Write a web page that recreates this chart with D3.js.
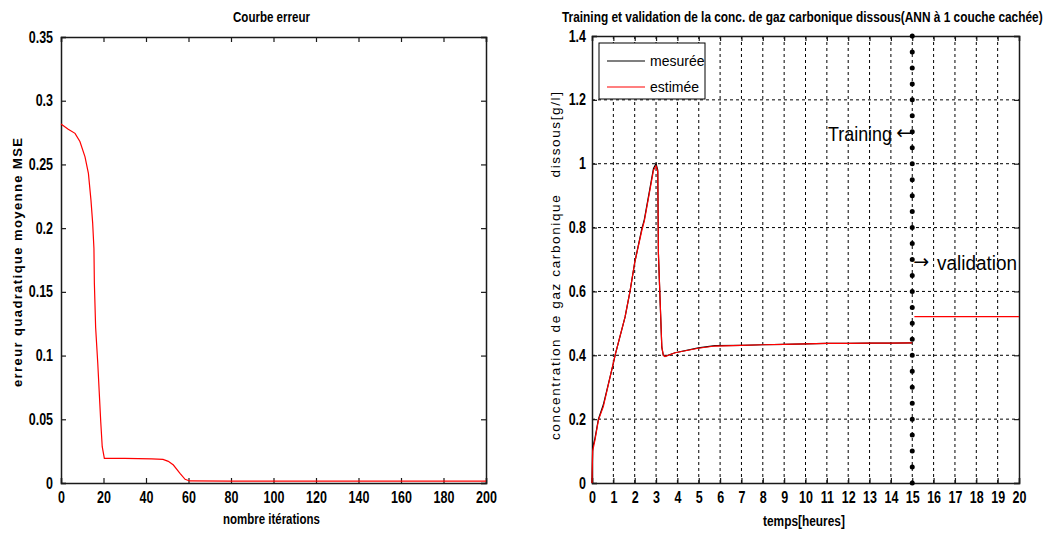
<!DOCTYPE html>
<html>
<head>
<meta charset="utf-8">
<script src="https://cdn.jsdelivr.net/npm/d3@7"></script>
<style>
  html, body { margin: 0; padding: 0; background: #fff; }
  svg { display: block; }
  text { fill: #000; }
</style>
</head>
<body>
<svg id="chart" width="1050" height="535"></svg>
<script>
// ---- Error curve (training MSE per iteration) ----
const iterations = [0, 3.4, 6.6, 8.9, 11.3, 12.9, 14.1, 14.9, 15.5, 15.7, 16.3, 17.3, 18.0, 18.7, 19.4, 20.4, 30, 42.7, 48, 50.5, 52.9, 56, 58.4, 60.5, 80, 120, 160, 200];
const mse = [0.2817, 0.2776, 0.2744, 0.268, 0.256, 0.243, 0.222, 0.204, 0.184, 0.157, 0.122, 0.094, 0.071, 0.048, 0.0285, 0.0194, 0.0193, 0.019, 0.0185, 0.017, 0.0141, 0.0076, 0.0029, 0.0016, 0.0015, 0.0015, 0.0015, 0.0015];
const iterTicks = [0, 20, 40, 60, 80, 100, 120, 140, 160, 180, 200];
const mseTicks = [0, 0.05, 0.1, 0.15, 0.2, 0.25, 0.3, 0.35];
const mseTickLabels = ["0", "0.05", "0.1", "0.15", "0.2", "0.25", "0.3", "0.35"];

// ---- Dissolved CO2 concentration: training (0-15 h) and validation (15-20 h) ----
const timeTrain = [0, 0.03, 0.14, 0.3, 0.53, 1.0, 1.08, 1.55, 1.78, 2.0, 2.33, 2.45, 2.72, 2.88, 3.0, 3.08, 3.11, 3.19, 3.27, 3.34, 3.42, 3.89, 4.98, 5.76, 7, 8, 9, 10, 11, 12, 13, 14, 15];
const measured = [0, 0.11, 0.14, 0.2, 0.245, 0.375, 0.4, 0.52, 0.6, 0.69, 0.795, 0.825, 0.925, 0.985, 1.0, 0.98, 0.72, 0.57, 0.425, 0.40, 0.397, 0.408, 0.423, 0.43, 0.431, 0.433, 0.434, 0.436, 0.437, 0.437, 0.438, 0.438, 0.439];
const estimated = [0, 0.10, 0.135, 0.197, 0.239, 0.376, 0.40, 0.52, 0.60, 0.69, 0.79, 0.82, 0.92, 0.98, 0.993, 0.975, 0.72, 0.573, 0.427, 0.40, 0.396, 0.408, 0.422, 0.429, 0.431, 0.433, 0.434, 0.436, 0.437, 0.437, 0.438, 0.438, 0.439];
const timeValid = [15.1, 20];
const estimatedValid = [0.521, 0.521];
const trainingEnd = 15;
const hourTicks = d3.range(0, 21);
const concTicks = [0, 0.2, 0.4, 0.6, 0.8, 1, 1.2, 1.4];
const concTickLabels = ["0", "0.2", "0.4", "0.6", "0.8", "1", "1.2", "1.4"];
const seriesNames = ["mesurée", "estimée"];

const svg = d3.select("#chart");
const sansFont = "'Liberation Sans', Arial, sans-serif";
const arrowFont = "'DejaVu Sans', sans-serif";
const axisColor = "#1a1a1a";

// squeeze a text horizontally, keeping its anchor point
function condense(sel, ratio) {
  sel.each(function () {
    const len = this.getComputedTextLength();
    d3.select(this).attr("textLength", len * ratio).attr("lengthAdjust", "spacingAndGlyphs");
  });
}

function styleAxis(g, showLabels) {
  g.select(".domain").attr("stroke", axisColor).attr("stroke-width", 1.5);
  g.selectAll(".tick line").attr("stroke", axisColor).attr("stroke-width", 1.2);
  const t = g.selectAll(".tick text")
    .attr("font-family", sansFont)
    .attr("font-weight", "bold")
    .attr("font-size", 16)
    .attr("fill", "#000")
    .style("display", showLabels ? null : "none");
  if (showLabels) condense(t, 0.78);
}

// text fitted to a given width by a horizontal scale transform
function fittedLabel(parent, str, x, y, width, size, weight) {
  const t = parent.append("text").text(str)
    .attr("font-family", sansFont).attr("font-weight", weight).attr("font-size", size);
  const natural = t.node().getComputedTextLength();
  t.attr("transform", `translate(${x},${y}) scale(${width / natural},1)`);
  return t;
}

// ================= Left panel =================
const L = { left: 61, right: 486, top: 37, bottom: 483 };
const xL = d3.scaleLinear().domain([0, 200]).range([L.left, L.right]);
const yL = d3.scaleLinear().domain([0, 0.35]).range([L.bottom, L.top]);

const gL = svg.append("g");
gL.append("g").attr("transform", `translate(0,${L.bottom})`)
  .call(d3.axisBottom(xL).tickValues(iterTicks).tickSize(-5).tickPadding(9).tickFormat(d3.format("d")))
  .call(g => styleAxis(g, true));
gL.append("g").attr("transform", `translate(0,${L.top})`)
  .call(d3.axisTop(xL).tickValues(iterTicks).tickSize(-5))
  .call(g => styleAxis(g, false));
gL.append("g").attr("transform", `translate(${L.left},0)`)
  .call(d3.axisLeft(yL).tickValues(mseTicks).tickSize(-5).tickPadding(8).tickFormat((d, i) => mseTickLabels[i]))
  .call(g => styleAxis(g, true));
gL.append("g").attr("transform", `translate(${L.right},0)`)
  .call(d3.axisRight(yL).tickValues(mseTicks).tickSize(-5))
  .call(g => styleAxis(g, false));

gL.append("path")
  .datum(iterations.map((d, i) => [d, mse[i]]))
  .attr("fill", "none").attr("stroke", "#ff0000").attr("stroke-width", 1.2)
  .attr("d", d3.line().x(d => xL(d[0])).y(d => yL(d[1])));

fittedLabel(gL, "Courbe erreur", 233, 22, 77, 15, "bold");
fittedLabel(gL, "nombre itérations", 223, 524, 97, 15, "bold");
gL.append("text").text("erreur quadratique moyenne MSE")
  .attr("transform", "translate(22,387) rotate(-90)")
  .attr("textLength", 249).attr("lengthAdjust", "spacing")
  .attr("font-family", sansFont).attr("font-weight", "bold").attr("font-size", 13);

// ================= Right panel =================
const R = { left: 592, right: 1019, top: 36, bottom: 483 };
const xR = d3.scaleLinear().domain([0, 20]).range([R.left, R.right]);
const yR = d3.scaleLinear().domain([0, 1.4]).range([R.bottom, R.top]);

const gR = svg.append("g");

// dashed grid
gR.append("g").selectAll("line").data(hourTicks.filter(d => d > 0 && d < 20)).join("line")
  .attr("x1", d => xR(d)).attr("x2", d => xR(d)).attr("y1", R.bottom).attr("y2", R.top)
  .attr("stroke", "#000").attr("stroke-width", 1).attr("stroke-dasharray", "3 3");
gR.append("g").selectAll("line").data(concTicks.filter(d => d > 0 && d < 1.4)).join("line")
  .attr("x1", R.left).attr("x2", R.right).attr("y1", d => yR(d)).attr("y2", d => yR(d))
  .attr("stroke", "#000").attr("stroke-width", 1).attr("stroke-dasharray", "3 3");

gR.append("g").attr("transform", `translate(0,${R.bottom})`)
  .call(d3.axisBottom(xR).tickValues(hourTicks).tickSize(-5).tickPadding(9).tickFormat(d3.format("d")))
  .call(g => styleAxis(g, true));
gR.append("g").attr("transform", `translate(0,${R.top})`)
  .call(d3.axisTop(xR).tickValues(hourTicks).tickSize(-5))
  .call(g => styleAxis(g, false));
gR.append("g").attr("transform", `translate(${R.left},0)`)
  .call(d3.axisLeft(yR).tickValues(concTicks).tickSize(-5).tickPadding(6).tickFormat((d, i) => concTickLabels[i]))
  .call(g => styleAxis(g, true));
gR.append("g").attr("transform", `translate(${R.right},0)`)
  .call(d3.axisRight(yR).tickValues(concTicks).tickSize(-5))
  .call(g => styleAxis(g, false));

const lineR = d3.line().x(d => xR(d[0])).y(d => yR(d[1]));
gR.append("path")
  .datum(timeTrain.map((d, i) => [d, measured[i]]))
  .attr("fill", "none").attr("stroke", "#000").attr("stroke-width", 1.2).attr("d", lineR);
gR.append("path")
  .datum(timeTrain.map((d, i) => [d, estimated[i]]))
  .attr("fill", "none").attr("stroke", "#ff0000").attr("stroke-width", 1.2).attr("d", lineR);
gR.append("path")
  .datum(timeValid.map((d, i) => [d, estimatedValid[i]]))
  .attr("fill", "none").attr("stroke", "#ff0000").attr("stroke-width", 1.2).attr("d", lineR);

// training / validation boundary
gR.append("line")
  .attr("x1", xR(trainingEnd)).attr("x2", xR(trainingEnd))
  .attr("y1", yR(0)).attr("y2", yR(1.4))
  .attr("stroke", "#000").attr("stroke-width", 5).attr("stroke-linecap", "round")
  .attr("stroke-dasharray", `0 ${(yR(0) - yR(1.4)) / 28}`);

const bx = xR(trainingEnd);
fittedLabel(gR, "Training", 828, 141, 64, 20, "normal");
gR.append("text").text("←")
  .attr("x", bx).attr("y", 139).attr("text-anchor", "end")
  .attr("font-family", arrowFont).attr("font-size", 19);
gR.append("text").text("→")
  .attr("x", bx + 1).attr("y", 268)
  .attr("font-family", arrowFont).attr("font-size", 19);
fittedLabel(gR, "validation", 937, 270, 80, 20, "normal");

// legend
const leg = gR.append("g");
leg.append("rect").attr("x", 599).attr("y", 43).attr("width", 106).attr("height", 56)
  .attr("fill", "#fff").attr("stroke", "#000").attr("stroke-width", 1);
const legColors = ["#000", "#ff0000"];
seriesNames.forEach((name, i) => {
  const ly = 61 + i * 26;
  leg.append("line").attr("x1", 607).attr("x2", 645).attr("y1", ly).attr("y2", ly)
    .attr("stroke", legColors[i]).attr("stroke-width", 1.2);
  leg.append("text").text(name).attr("x", 650).attr("y", ly + 5)
    .attr("font-family", sansFont).attr("font-size", 14);
});

fittedLabel(gR, "Training et validation de la conc. de gaz carbonique dissous(ANN à 1 couche cachée)", 562, 22, 481, 15, "bold");
fittedLabel(gR, "temps[heures]", 763, 526, 82, 15, "bold");
gR.append("text").text("concentration de gaz carbonique   dissous[g/l]")
  .attr("transform", "translate(560,440) rotate(-90)")
  .attr("xml:space", "preserve").style("white-space", "pre")
  .attr("textLength", 348).attr("lengthAdjust", "spacing")
  .attr("font-family", sansFont).attr("font-size", 13.5);
</script>
</body>
</html>
